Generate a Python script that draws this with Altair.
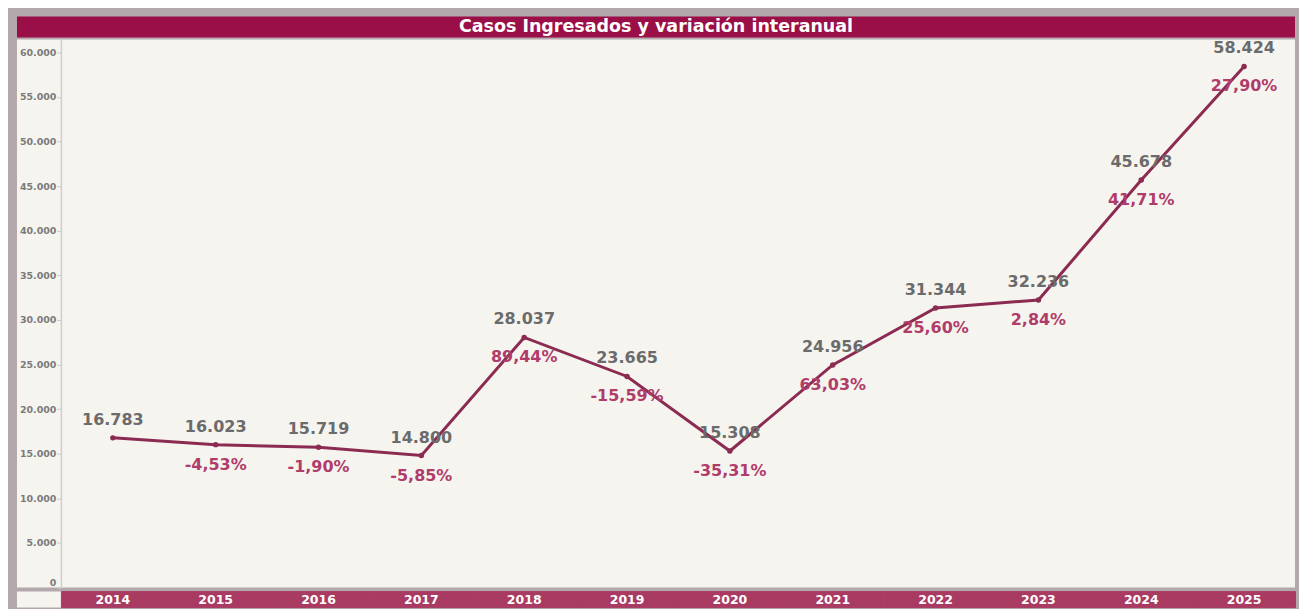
import altair as alt
import pandas as pd

TITLE = "Casos Ingresados y variación interanual"
years = [2014, 2015, 2016, 2017, 2018, 2019, 2020, 2021, 2022, 2023, 2024, 2025]
cases = [16783, 16023, 15719, 14800, 28037, 23665, 15308, 24956, 31344, 32236, 45678, 58424]
variation = [None, -4.53, -1.90, -5.85, 89.44, -15.59, -35.31, 63.03, 25.60, 2.84, 41.71, 27.90]
y_ticks = [0, 5000, 10000, 15000, 20000, 25000, 30000, 35000, 40000, 45000, 50000, 55000, 60000]

FRAME = "#b3a9ad"
LIGHT = "#f6f4ef"
TITLE_BG = "#9b0f48"
BAND = "#a93b63"
LINE = "#8b2b52"
VAL_COLOR = "#6b6b6b"
PCT_COLOR = "#b03c6a"
FONT = "DejaVu Sans"

W = 1280

df = pd.DataFrame({"year": years, "cases": cases, "var": variation})
df["vlabel"] = [f"{v:,}".replace(",", ".") for v in cases]
df["plabel"] = ["" if v is None else f"{v:.2f}".replace(".", ",") + "%" for v in variation]
df["ylabel"] = [str(y) for y in years]

xscale = alt.Scale(domain=[2013.068, 2025.495], nice=False, zero=False)


def view(fill):
    return alt.ViewBackground(fill=fill, stroke="transparent", strokeWidth=0)


# Title bar
title_panel = (
    alt.Chart(pd.DataFrame({"t": [TITLE]}))
    .mark_text(font=FONT, fontWeight="bold", fontSize=17.5, color="white")
    .encode(text="t:N")
    .properties(width=W, height=21, view=view(TITLE_BG))
)

# Main chart
base = alt.Chart(df).encode(
    x=alt.X("year:Q", scale=xscale, axis=None),
    y=alt.Y(
        "cases:Q",
        scale=alt.Scale(domain=[0, 61450], nice=False),
        axis=alt.Axis(
            values=y_ticks,
            orient="left",
            offset=-44,
            title=None,
            grid=False,
            labelExpr="replace(format(datum.value, ','), ',', '.')",
            labelFont=FONT,
            labelFontWeight="bold",
            labelFontSize=9.5,
            labelColor="#7a7a7a",
            labelPadding=1,
            labelFlush=True,
            tickColor="#c8c8c8",
            tickSize=4,
            domainColor="#cfcfcf",
            domainWidth=1.5,
        ),
    ),
)

line = base.mark_line(color=LINE, strokeWidth=3)
points = base.mark_circle(size=30, color=LINE, opacity=1)
vlabels = base.mark_text(
    dy=-18, font=FONT, fontWeight="bold", fontSize=16, color=VAL_COLOR
).encode(text="vlabel:N")
plabels = (
    base.transform_filter("datum.plabel != ''")
    .mark_text(dy=20, font=FONT, fontWeight="bold", fontSize=16, color=PCT_COLOR)
    .encode(text="plabel:N")
)

main = alt.layer(line, points, vlabels, plabels).properties(
    width=W, height=549, view=view(LIGHT)
)

# Year band
band_base = alt.Chart(df).transform_calculate(x0="datum.year - 0.5", x1="datum.year + 0.5")
rects = band_base.mark_rect(color=BAND, stroke=BAND, strokeWidth=1).encode(
    x=alt.X("x0:Q", scale=xscale, axis=None), x2="x1:Q"
)
year_text = alt.Chart(df).mark_text(
    font=FONT, fontWeight="bold", fontSize=12.5, color="white"
).encode(x=alt.X("year:Q", scale=xscale, axis=None), text="ylabel:N")

band = alt.layer(rects, year_text).properties(width=W, height=16, view=view(LIGHT))

chart = (
    alt.vconcat(title_panel, main, band, spacing=2)
    .properties(
        background=FRAME,
        padding={"left": 9, "top": 8, "right": 2, "bottom": 2},
    )
)

chart.save("out.html", embed_options={"renderer": "svg", "actions": False})
